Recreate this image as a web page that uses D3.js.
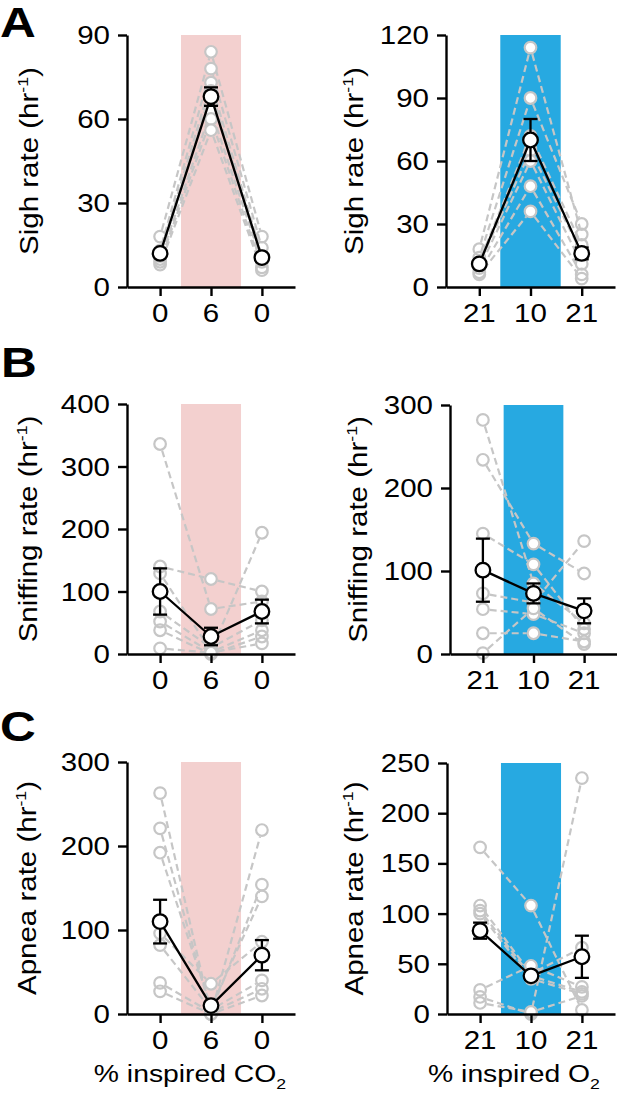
<!DOCTYPE html>
<html><head><meta charset="utf-8">
<script src="https://cdn.jsdelivr.net/npm/d3@7"></script>
<style>html,body{margin:0;padding:0;background:#fff}svg{display:block}</style>
</head><body>
<svg id="c" width="617" height="1103"></svg>
<script>
// ---------------- DATA ----------------
const co2Labels = ["0", "6", "0"];
const o2Labels = ["21", "10", "21"];

// Sigh rate, CO2 (rows = animals: baseline, 6% CO2, recovery)
const sighCO2 = [[18,84,18],[13,78,14],[12,73,11],[11,70,10],[10,63,9],[9,60,7],[8,56,6]];
const sighCO2Mean = [12, 68, 10.5];
const sighCO2Sem = [1, 3.3, 1];
const sighCO2Ticks = [0, 30, 60, 90];

// Sigh rate, O2
const sighO2 = [[18,114,25],[14,90,30],[12,72,20],[11,65,16],[9,60,11],[7,48,6],[6,36,4]];
const sighO2Mean = [11, 70, 16];
const sighO2Sem = [1.5, 10, 2.8];
const sighO2Ticks = [0, 30, 60, 90, 120];

// Sniffing rate, CO2
const sniffCO2 = [[336,72,84],[140,120,100],[129,5,194],[68,10,54],[52,3,38],[38,0,28],[9,2,17]];
const sniffCO2Mean = [100, 28, 68];
const sniffCO2Sem = [37, 14, 19];
const sniffCO2Ticks = [0, 100, 200, 300, 400];

// Sniffing rate, O2
const sniffO2 = [[282,85,37],[234,133,97],[145,108,30],[73,62,136],[54,48,25],[25,25,15],[1,55,12]];
const sniffO2Mean = [101, 73, 52];
const sniffO2Sem = [38, 12, 15];
const sniffO2Ticks = [0, 100, 200, 300];

// Apnea rate, CO2
const apneaCO2 = [[263,0,219],[221,3,154],[192,8,140],[96,36,86],[82,5,40],[37,2,30],[27,0,22]];
const apneaCO2Mean = [110, 10, 70];
const apneaCO2Sem = [26, 3, 18];
const apneaCO2Ticks = [0, 100, 200, 300];

// Apnea rate, O2
const apneaO2 = [[166,108,4],[108,40,66],[103,38,22],[100,35,20],[24,48,27],[17,0,235],[11,2,18]];
const apneaO2Mean = [83, 38, 57];
const apneaO2Sem = [8, 4, 21];
const apneaO2Ticks = [0, 50, 100, 150, 200, 250];

// ---------------- LAYOUT ----------------
const PINK = "#f3d0cf", BLUE = "#27a9e1", GRAY = "#c6c6c6";
const FONT = "'Liberation Sans', Arial, Helvetica, sans-serif";
const SX = 1.18;

const panels = [
  {rows: sighCO2, mean: sighCO2Mean, sem: sighCO2Sem, ticks: sighCO2Ticks, xl: co2Labels, shade: PINK,
   xr: [127, 295], yr: [287, 35], ylab: "Sigh rate (hr", lx: 38},
  {rows: sighO2, mean: sighO2Mean, sem: sighO2Sem, ticks: sighO2Ticks, xl: o2Labels, shade: BLUE,
   xr: [446, 615], yr: [287, 35], ylab: "Sigh rate (hr", lx: 363},
  {rows: sniffCO2, mean: sniffCO2Mean, sem: sniffCO2Sem, ticks: sniffCO2Ticks, xl: co2Labels, shade: PINK,
   xr: [127, 295], yr: [654, 404], ylab: "Sniffing rate (hr", lx: 37},
  {rows: sniffO2, mean: sniffO2Mean, sem: sniffO2Sem, ticks: sniffO2Ticks, xl: o2Labels, shade: BLUE,
   xr: [450, 617], yr: [654, 405], ylab: "Sniffing rate (hr", lx: 367},
  {rows: apneaCO2, mean: apneaCO2Mean, sem: apneaCO2Sem, ticks: apneaCO2Ticks, xl: co2Labels, shade: PINK,
   xr: [127, 295], yr: [1014, 762], ylab: "Apnea rate (hr", lx: 36},
  {rows: apneaO2, mean: apneaO2Mean, sem: apneaO2Sem, ticks: apneaO2Ticks, xl: o2Labels, shade: BLUE,
   xr: [447, 615], yr: [1014, 763], ylab: "Apnea rate (hr", lx: 363}
];

const svg = d3.select("#c");

function label(g, s, x, y, size, anchor, rot, weight) {
  return g.append("text")
    .attr("transform", `translate(${x},${y}) rotate(${rot || 0}) scale(${SX},1)`)
    .attr("text-anchor", anchor)
    .attr("font-family", FONT)
    .attr("font-size", size)
    .attr("font-weight", weight || "normal")
    .attr("fill", "#000")
    .text(s);
}

function trimSeg(x1, y1, x2, y2, r1, r2) {
  const dx = x2 - x1, dy = y2 - y1, L = Math.hypot(dx, dy);
  if (L < r1 + r2 + 1) return null;
  const ux = dx / L, uy = dy / L;
  return [x1 + ux * r1, y1 + uy * r1, x2 - ux * r2, y2 - uy * r2];
}

panels.forEach(p => {
  const g = svg.append("g");
  const x = d3.scalePoint().domain([0, 1, 2]).range(p.xr).padding(0.65);
  const yMax = p.ticks[p.ticks.length - 1];
  const y = d3.scaleLinear().domain([0, yMax]).range(p.yr);
  const step = x.step();

  // shaded condition
  g.append("rect")
    .attr("x", x(1) - 0.59 * step).attr("width", 1.18 * step)
    .attr("y", y(yMax)).attr("height", y(0) - y(yMax))
    .attr("fill", p.shade);

  // individual dashed lines (trimmed at circle edges)
  const R = 5.8;
  p.rows.forEach(r => {
    for (let i = 0; i < 2; i++) {
      const s = trimSeg(x(i), y(r[i]), x(i + 1), y(r[i + 1]), R + 1, R + 1);
      if (!s) continue;
      g.append("line").attr("x1", s[0]).attr("y1", s[1]).attr("x2", s[2]).attr("y2", s[3])
        .attr("stroke", GRAY).attr("stroke-width", 2.2).attr("stroke-dasharray", "7,4");
    }
  });
  // individual circles
  p.rows.forEach(r => r.forEach((v, i) => {
    g.append("circle").attr("cx", x(i)).attr("cy", y(v)).attr("r", R)
      .attr("fill", i === 1 ? "#fff" : "none")
      .attr("stroke", GRAY).attr("stroke-width", 2.2);
  }));

  // mean line
  g.append("path")
    .attr("d", d3.line().x((d, i) => x(i)).y(d => y(d))(p.mean))
    .attr("fill", "none").attr("stroke", "#000").attr("stroke-width", 2.3);

  // error bars
  p.mean.forEach((m, i) => {
    const cx = x(i), top = y(m + p.sem[i]), bot = y(m - p.sem[i]);
    g.append("line").attr("x1", cx).attr("x2", cx).attr("y1", top).attr("y2", bot)
      .attr("stroke", "#000").attr("stroke-width", 2.3);
    [top, bot].forEach(yy => g.append("line").attr("x1", cx - 7).attr("x2", cx + 7)
      .attr("y1", yy).attr("y2", yy).attr("stroke", "#000").attr("stroke-width", 2.3));
  });
  // mean circles
  p.mean.forEach((m, i) => {
    g.append("circle").attr("cx", x(i)).attr("cy", y(m)).attr("r", 7.3)
      .attr("fill", "#fff").attr("stroke", "#000").attr("stroke-width", 2.3);
  });

  // axes
  const ya = g.append("g").attr("transform", `translate(${p.xr[0]},0)`)
    .call(d3.axisLeft(y).tickValues(p.ticks).tickSize(9).tickSizeOuter(0).tickFormat(""));
  const xa = g.append("g").attr("transform", `translate(0,${p.yr[0]})`)
    .call(d3.axisBottom(x).tickSize(9).tickSizeOuter(0).tickFormat(""));
  [ya, xa].forEach(a => {
    a.selectAll("path,line").attr("stroke", "#000").attr("stroke-width", 2.4);
  });

  // tick labels
  p.ticks.forEach(t => label(g, String(t), p.xr[0] - 17, y(t) + 9, 25, "end"));
  p.xl.forEach((t, i) => label(g, t, x(i), p.yr[0] + 35, 25, "middle"));

  // y axis title
  const cy = (p.yr[0] + p.yr[1]) / 2;
  const tt = label(g, p.ylab, p.lx, cy, 25, "middle", -90);
  tt.append("tspan").attr("font-size", 15).attr("dy", -10).text("-1");
  tt.append("tspan").attr("dy", 10).text(")");
});

// panel letters
label(svg, "A", 0, 37, 42, "start", 0, "bold");
label(svg, "B", 1, 377, 42, "start", 0, "bold");
label(svg, "C", 0, 741, 42, "start", 0, "bold");

// x axis titles
const t1 = label(svg, "% inspired CO", 190, 1082, 24, "middle");
t1.append("tspan").attr("font-size", 15).attr("dy", 7).text("2");
const t2 = label(svg, "% inspired O", 514, 1082, 24, "middle");
t2.append("tspan").attr("font-size", 15).attr("dy", 7).text("2");
</script>
</body></html>
